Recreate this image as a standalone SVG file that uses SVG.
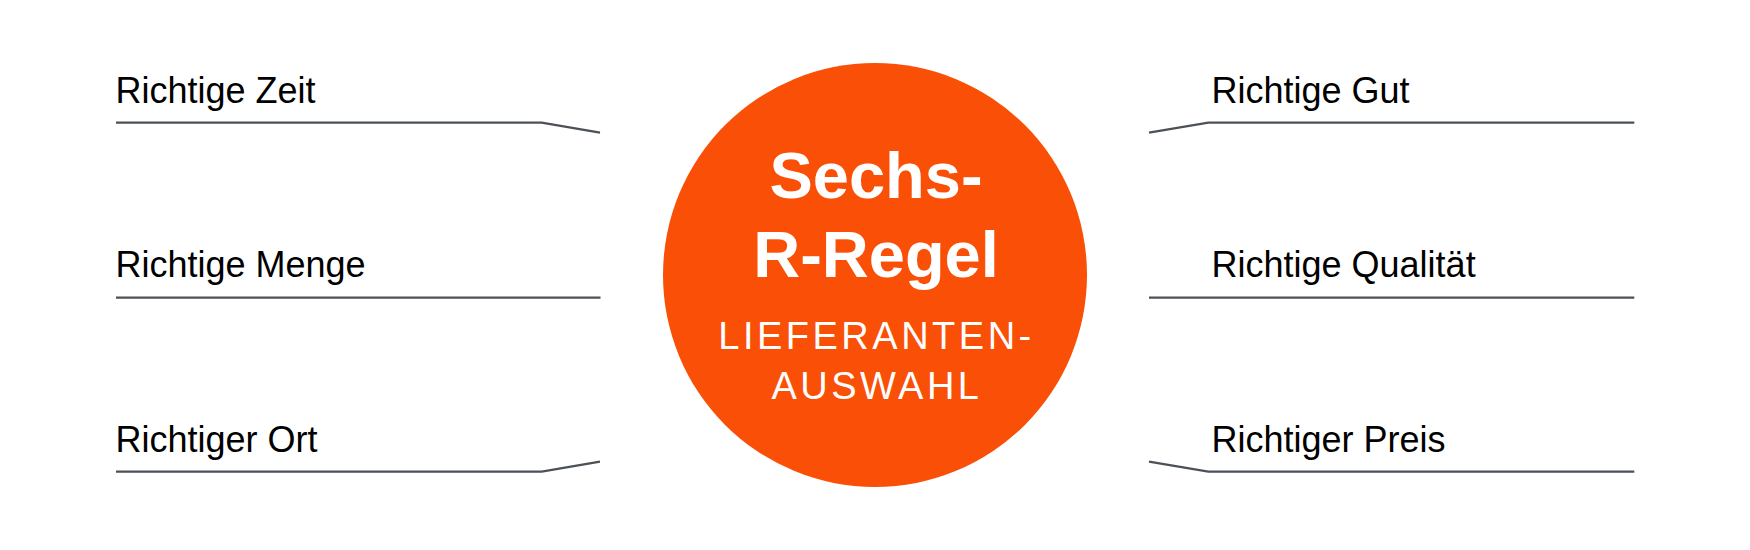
<svg xmlns="http://www.w3.org/2000/svg" width="1750" height="550" viewBox="0 0 1750 550">
<style>
.lbl{font-family:"Liberation Sans",Arial,sans-serif;font-size:36px;fill:#000}
.con{fill:none;stroke:#4b5157;stroke-width:2.2}
.t1{font-family:"Liberation Sans",Arial,sans-serif;font-size:65px;font-weight:bold;fill:#fff;text-anchor:middle}
.t2{font-family:"Liberation Sans",Arial,sans-serif;font-size:38px;fill:#fff;text-anchor:middle;letter-spacing:3.5px}
</style>
<rect width="1750" height="550" fill="#fff"/>
<g id="connectors">
<polyline class="con" points="116,122.7 541.7,122.7 600,132.7"/>
<polyline class="con" points="116,297.7 600.5,297.7"/>
<polyline class="con" points="116,471.7 541.7,471.7 600,461.7"/>
<polyline class="con" points="1634.3,122.7 1208.3,122.7 1149,132.7"/>
<polyline class="con" points="1634.3,297.7 1149,297.7"/>
<polyline class="con" points="1634.3,471.7 1208.3,471.7 1149,461.7"/>
</g>
<g id="center">
<circle cx="875" cy="275" r="212" fill="#f94f06"/>
<text class="t1" x="876" y="198.3">Sechs-</text>
<text class="t1" x="876" y="277.3">R-Regel</text>
<text class="t2" x="876.5" y="349.3">LIEFERANTEN-</text>
<text class="t2" x="877" y="399.3">AUSWAHL</text>
</g>
<g id="zeit"><text class="lbl" x="115.5" y="103.3">Richtige Zeit</text></g>
<g id="menge"><text class="lbl" x="115.5" y="276.7">Richtige Menge</text></g>
<g id="ort"><text class="lbl" x="115.5" y="451.7">Richtiger Ort</text></g>
<g id="gut"><text class="lbl" x="1211.5" y="103.3">Richtige Gut</text></g>
<g id="qualitaet"><text class="lbl" x="1211.5" y="276.7">Richtige Qualität</text></g>
<g id="preis"><text class="lbl" x="1211.5" y="451.7">Richtiger Preis</text></g>
</svg>
